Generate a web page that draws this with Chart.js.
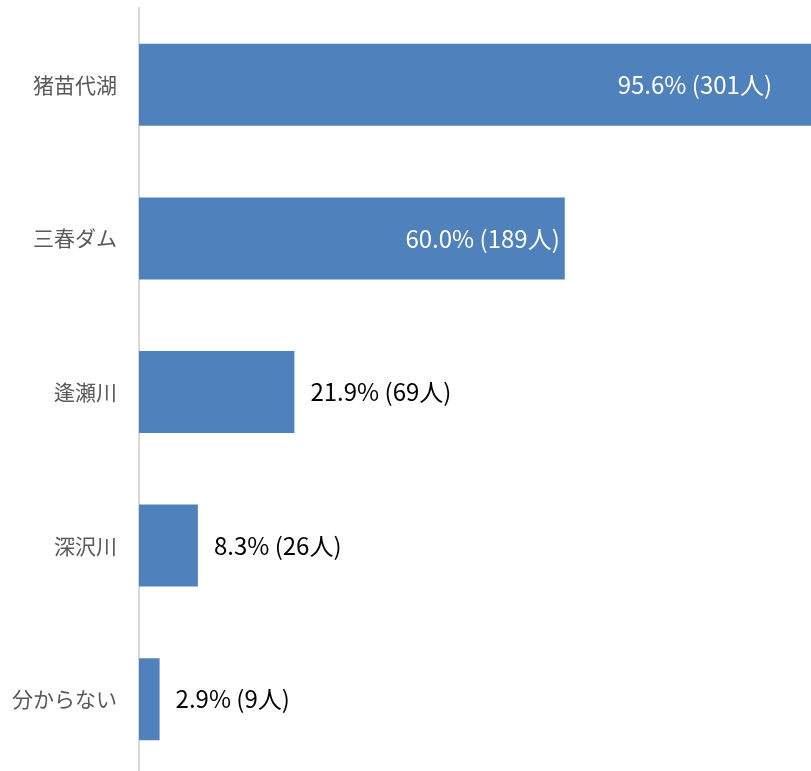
<!DOCTYPE html>
<html><head><meta charset="utf-8">
<script src="https://cdn.jsdelivr.net/npm/chart.js@4/dist/chart.umd.min.js"></script>
<style>html,body{margin:0;padding:0;background:#fff;overflow:hidden}#wrap{width:811px;height:776px}</style>
</head><body><div id="wrap"><canvas id="c" width="811" height="776"></canvas></div>
<script>
const categories = ['猪苗代湖', '三春ダム', '逢瀬川', '深沢川', '分からない'];
const percents = [95.6, 60.0, 21.9, 8.3, 2.9];
const counts = [301, 189, 69, 26, 9];
const insideLabel = [true, true, false, false, false];

const labelPlugin = {
  id: 'barLabels',
  afterDatasetsDraw(chart) {
    const ctx = chart.ctx;
    const meta = chart.getDatasetMeta(0);
    const area = chart.chartArea;
    ctx.save();
    ctx.font = '24px "Noto Sans CJK JP", "Noto Sans", sans-serif';
    ctx.textBaseline = 'middle';
    meta.data.forEach((bar, i) => {
      const text = percents[i].toFixed(1) + '% (' + counts[i] + '人)';
      if (insideLabel[i]) {
        ctx.fillStyle = '#ffffff';
        ctx.textAlign = 'right';
        ctx.fillText(text, Math.min(bar.x, area.right - 34) - 5, bar.y);
      } else {
        ctx.fillStyle = '#000000';
        ctx.textAlign = 'left';
        ctx.fillText(text, bar.x + 16, bar.y);
      }
    });
    ctx.restore();
  }
};

new Chart(document.getElementById('c'), {
  type: 'bar',
  data: {
    labels: categories,
    datasets: [{
      data: percents,
      backgroundColor: '#4f81bd',
      borderWidth: 0,
      categoryPercentage: 1,
      barPercentage: 0.534
    }]
  },
  options: {
    indexAxis: 'y',
    responsive: false,
    animation: false,
    layout: { padding: { top: 8, bottom: 0, left: 0, right: 0 } },
    plugins: { legend: { display: false }, tooltip: { enabled: false } },
    scales: {
      x: { display: false, min: 0, max: 94.7 },
      y: {
        afterFit(scale) { scale.width = 139; scale.paddingTop = 0; scale.paddingBottom = 0; },
        grid: { display: false, drawTicks: false },
        border: { display: true, color: '#d9d9d9', width: 2 },
        ticks: {
          color: '#595959',
          padding: 22,
          font: { family: '"Noto Sans CJK JP", "Noto Sans", sans-serif', size: 21 }
        }
      }
    }
  },
  plugins: [labelPlugin]
});
</script>
</body></html>
